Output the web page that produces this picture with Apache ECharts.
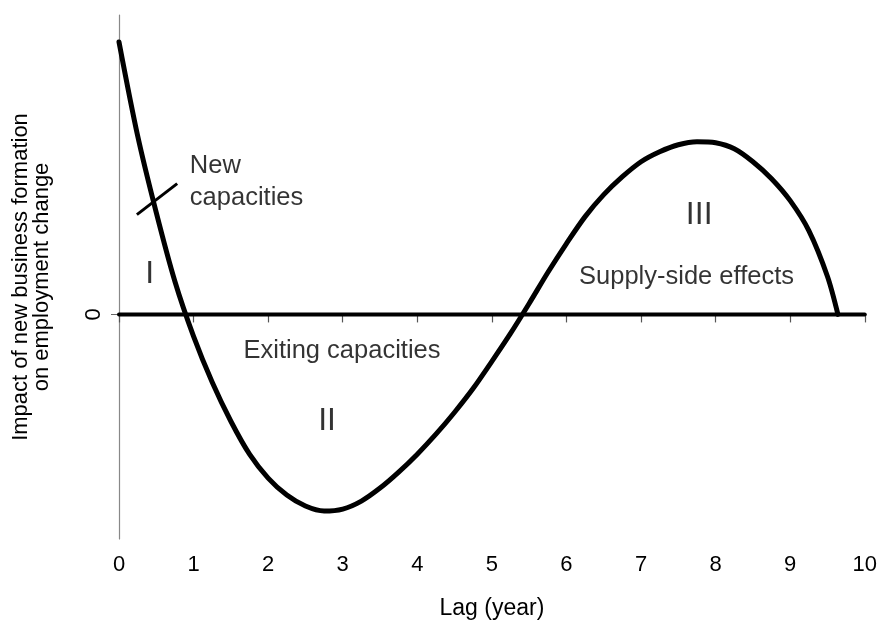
<!DOCTYPE html>
<html>
<head>
<meta charset="utf-8">
<script src="https://cdn.jsdelivr.net/npm/echarts@6/dist/echarts.min.js"></script>
<style>
  html, body { margin: 0; padding: 0; background: #fff; }
  #chart { width: 880px; height: 625px; }
</style>
</head>
<body>
<div id="chart"></div>
<script>
// lag in years (x) and impact (y, arbitrary units, 0 = no effect)
const lagYears = [0, 0.25, 0.5, 0.75, 1, 1.25, 1.5, 1.75, 2, 2.25, 2.5, 2.75, 3, 3.25, 3.5, 3.75, 4, 4.25, 4.5, 4.75,
  5, 5.25, 5.5, 5.75, 6, 6.25, 6.5, 6.75, 7, 7.25, 7.5, 7.75, 8, 8.25, 8.5, 8.75, 9, 9.25, 9.5, 9.64];
const impact = [2.73, 1.79, 1.02, 0.33, -0.22, -0.68, -1.07, -1.40, -1.64, -1.81, -1.92, -1.97, -1.95, -1.87, -1.74, -1.58, -1.40, -1.20, -0.98, -0.74,
  -0.47, -0.19, 0.11, 0.42, 0.71, 0.98, 1.20, 1.38, 1.53, 1.63, 1.70, 1.73, 1.72, 1.66, 1.53, 1.36, 1.14, 0.84, 0.38, 0];

const xTicks = [0, 1, 2, 3, 4, 5, 6, 7, 8, 9, 10];
const zeroLineX = [0, 10];

// annotations (anchored in data coordinates)
const noteText = ["New\ncapacities", "I", "II", "III", "Exiting capacities", "Supply-side effects"];
const noteLag = [0.95, 0.41, 2.79, 7.78, 2.99, 7.61];
const noteValue = [1.33, 0.4, -1.07, 0.99, -0.37, 0.38];
// small pointer stroke next to "New capacities"
const pointerLag = [0.24, 0.78];
const pointerValue = [1.0, 1.31];

const FONT = '"Liberation Sans", Arial, sans-serif';

const chart = echarts.init(document.getElementById('chart'));

const curveData = lagYears.map((x, i) => [x, impact[i]]);

const noteData = noteText.map((t, i) => {
  const roman = /^I+$/.test(t);
  return {
    value: [noteLag[i], noteValue[i]],
    name: t,
    label: {
      fontSize: roman ? 32 : 25.5,
      align: i === 0 ? 'left' : 'center',
      lineHeight: 32
    }
  };
});

chart.setOption({
  animation: false,
  backgroundColor: '#fff',
  grid: { left: 119, right: 11, top: 15, bottom: 85 },
  xAxis: {
    type: 'value',
    min: 0,
    max: 10,
    interval: 1,
    name: 'Lag (year)',
    nameLocation: 'middle',
    nameGap: 58,
    nameTextStyle: { fontSize: 23, color: '#000', fontFamily: FONT },
    axisLine: { lineStyle: { color: '#666', width: 1.5 } },
    axisTick: { length: 8, lineStyle: { color: '#555', width: 1.2 } },
    axisLabel: {
      fontSize: 22, color: '#000', fontFamily: FONT, margin: 15,
      formatter: v => (xTicks.indexOf(v) >= 0 ? String(v) : '')
    },
    splitLine: { show: false }
  },
  yAxis: {
    type: 'value',
    min: -2.25,
    max: 3,
    axisLine: { show: true, onZero: false, lineStyle: { color: '#888', width: 1.2 } },
    axisTick: { show: true, customValues: [0], length: 8, lineStyle: { color: '#666' } },
    axisLabel: { customValues: [0], rotate: 90, fontSize: 22, color: '#000', fontFamily: FONT, margin: 14 },
    splitLine: { show: false }
  },
  graphic: [{
    type: 'text',
    x: 31,
    y: 277,
    rotation: Math.PI / 2,
    style: {
      text: 'Impact of new business formation\non employment change',
      fontSize: 22,
      fontFamily: FONT,
      fill: '#000',
      align: 'center',
      verticalAlign: 'middle',
      lineHeight: 21
    }
  }],
  series: [
    {
      name: 'zero',
      type: 'line',
      data: zeroLineX.map(x => [x, 0]),
      symbol: 'none',
      silent: true,
      lineStyle: { color: '#000', width: 4, cap: 'round' },
      z: 2
    },
    {
      name: 'impact',
      type: 'line',
      data: curveData,
      smooth: 0.3,
      symbol: 'none',
      silent: true,
      lineStyle: { color: '#000', width: 5, cap: 'round' },
      z: 3,
      markLine: {
        silent: true,
        symbol: 'none',
        label: { show: false },
        lineStyle: { color: '#000', width: 3, type: 'solid' },
        data: [[
          { coord: [pointerLag[0], pointerValue[0]] },
          { coord: [pointerLag[1], pointerValue[1]] }
        ]]
      }
    },
    {
      name: 'notes',
      type: 'scatter',
      data: noteData,
      symbolSize: 0,
      silent: true,
      label: {
        show: true,
        position: 'inside',
        color: '#000',
        fontFamily: FONT,
        verticalAlign: 'middle',
        formatter: p => p.name
      },
      z: 4
    }
  ]
});
</script>
</body>
</html>
